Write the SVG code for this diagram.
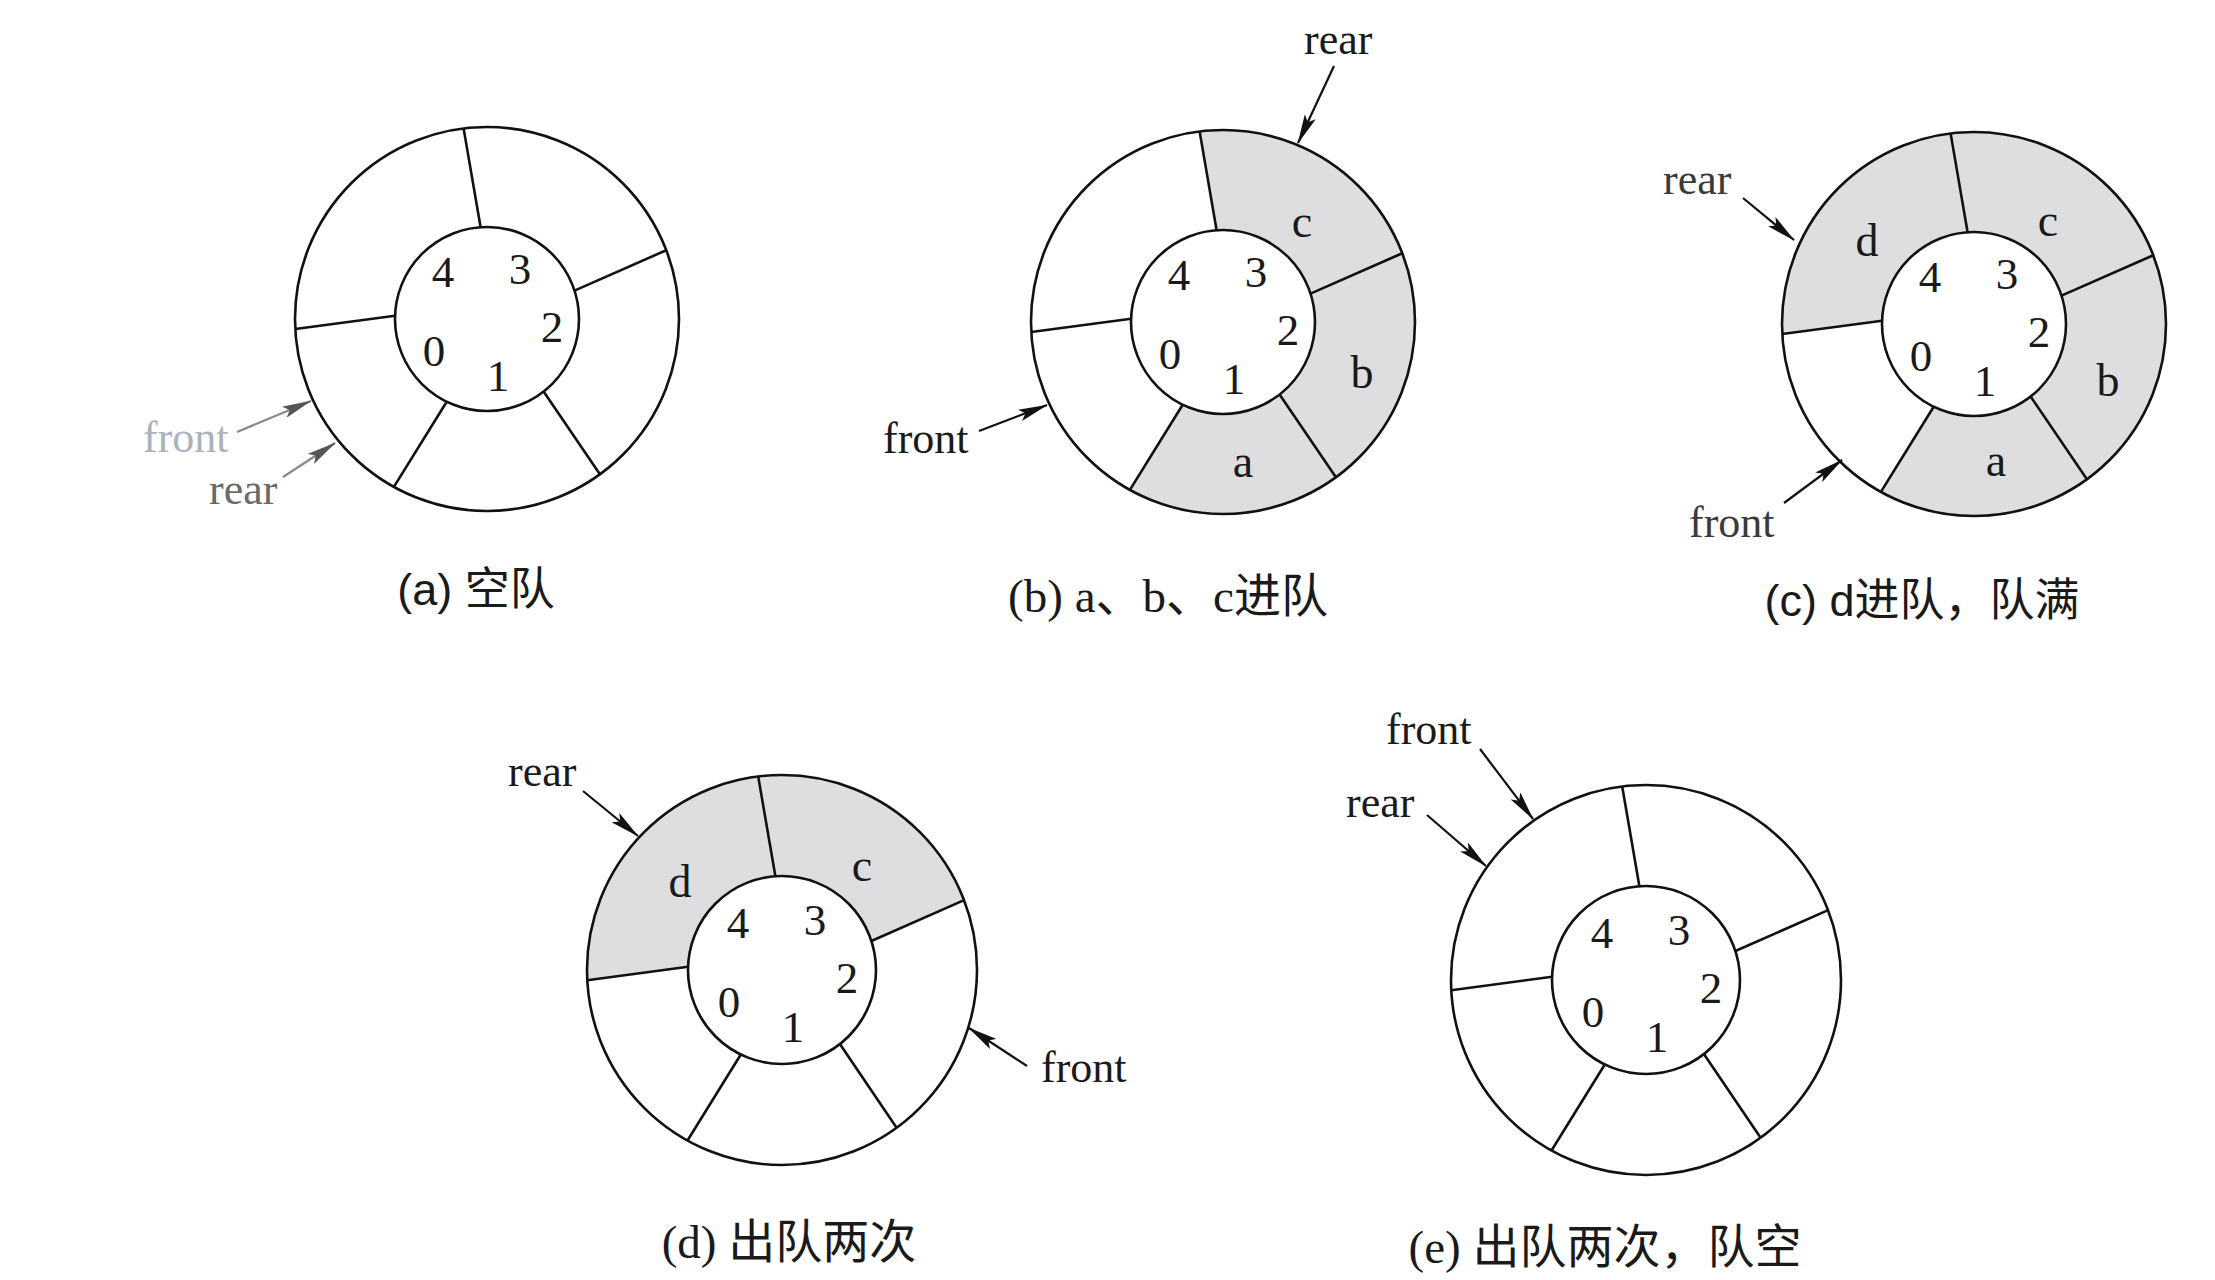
<svg xmlns="http://www.w3.org/2000/svg" xmlns:xlink="http://www.w3.org/1999/xlink" width="2215" height="1280" viewBox="0 0 2215 1280">
<style>
.ring{fill:none;stroke:#111;stroke-width:2.6}
.sh{fill:#dedee0;stroke:none}
.num{font-family:"Liberation Serif",serif;font-size:45px;fill:#1a1a1a;text-anchor:middle}
.let{font-family:"Liberation Serif",serif;font-size:46px;fill:#1a1a1a;text-anchor:middle}
.lbl{font-family:"Liberation Serif",serif;font-size:44px;fill:#1a1a1a}
.cap{font-family:"Liberation Serif","Noto Sans CJK SC",serif;font-size:47px;fill:#1a1a1a;text-anchor:middle}
.caps{font-family:"Liberation Sans","Noto Sans CJK SC",sans-serif;font-size:45px;fill:#1a1a1a;text-anchor:middle}
.arr{stroke:#111;stroke-width:2.2;fill:none;marker-end:url(#ah)}
.arrg{stroke:#888;stroke-width:2.2;fill:none;marker-end:url(#ahg)}
</style>
<defs>
<marker id="ah" viewBox="0 0 30 12" refX="29" refY="6" markerWidth="30" markerHeight="12" markerUnits="userSpaceOnUse" orient="auto">
<path d="M0,0 L30,6 L0,12 L6,6 z" fill="#111"/>
</marker>
<marker id="ahg" viewBox="0 0 30 12" refX="29" refY="6" markerWidth="30" markerHeight="12" markerUnits="userSpaceOnUse" orient="auto">
<path d="M0,0 L30,6 L0,12 L6,6 z" fill="#555"/>
</marker>
<g id="ringT">
<circle class="ring" r="192"/>
<circle class="ring" r="92"/>
<path class="ring" d="M-6.4,-91.8 L-23.4,-190.6 M87.5,-28.4 L179.3,-68.8 M56.6,72.5 L112.9,155.3 M-40.3,82.7 L-93.1,167.9 M-91.9,-3.2 L-191.7,10"/>
<text class="num" x="-44" y="-32">4</text>
<text class="num" x="33" y="-35">3</text>
<text class="num" x="65" y="23">2</text>
<text class="num" x="-53" y="47">0</text>
<text class="num" x="11" y="72">1</text>
</g>
<g id="ringB">
<circle class="ring" r="195"/>
<circle class="ring" r="94"/>
<path class="ring" d="M-6.6,-93.8 L-23.8,-193.5 M89.4,-29 L182.1,-69.9 M57.9,74.1 L114.6,157.8 M-41.2,84.5 L-94.5,170.5 M-93.9,-3.3 L-194.7,10.2"/>
<text class="num" x="-44" y="-32">4</text>
<text class="num" x="33" y="-35">3</text>
<text class="num" x="65" y="23">2</text>
<text class="num" x="-53" y="47">0</text>
<text class="num" x="11" y="72">1</text>
</g>
</defs>

<g id="fig-a" transform="translate(487,319)">
<use xlink:href="#ringT" href="#ringT"/>
</g>

<g id="fig-b" transform="translate(1223,322)">
<path class="sh" d="M-23.4,-190.6 A192,192 0 0 1 179.3,-68.8 L87.5,-28.4 A92,92 0 0 0 -6.4,-91.8 Z"/>
<path class="sh" d="M179.3,-68.8 A192,192 0 0 1 112.9,155.3 L56.6,72.5 A92,92 0 0 0 87.5,-28.4 Z"/>
<path class="sh" d="M112.9,155.3 A192,192 0 0 1 -93.1,167.9 L-40.3,82.7 A92,92 0 0 0 56.6,72.5 Z"/>
<use xlink:href="#ringT" href="#ringT"/>
<text class="let" x="79" y="-85">c</text>
<text class="let" x="139" y="66">b</text>
<text class="let" x="20" y="155">a</text>
</g>

<g id="fig-c" transform="translate(1974,324)">
<path class="sh" d="M-23.4,-190.6 A192,192 0 0 1 179.3,-68.8 L87.5,-28.4 A92,92 0 0 0 -6.4,-91.8 Z"/>
<path class="sh" d="M179.3,-68.8 A192,192 0 0 1 112.9,155.3 L56.6,72.5 A92,92 0 0 0 87.5,-28.4 Z"/>
<path class="sh" d="M112.9,155.3 A192,192 0 0 1 -93.1,167.9 L-40.3,82.7 A92,92 0 0 0 56.6,72.5 Z"/>
<path class="sh" d="M-191.7,10 A192,192 0 0 1 -23.4,-190.6 L-6.4,-91.8 A92,92 0 0 0 -91.9,-3.2 Z"/>
<use xlink:href="#ringT" href="#ringT"/>
<text class="let" x="-107" y="-68">d</text>
<text class="let" x="74" y="-88">c</text>
<text class="let" x="134" y="72">b</text>
<text class="let" x="22" y="152">a</text>
</g>

<g id="fig-d" transform="translate(782,970)">
<path class="sh" d="M-194.7,10.2 A195,195 0 0 1 -23.8,-193.5 L-6.6,-93.8 A94,94 0 0 0 -93.9,-3.3 Z"/>
<path class="sh" d="M-23.8,-193.5 A195,195 0 0 1 182.1,-69.9 L89.4,-29 A94,94 0 0 0 -6.6,-93.8 Z"/>
<use xlink:href="#ringB" href="#ringB"/>
<text class="let" x="-102" y="-73">d</text>
<text class="let" x="80" y="-89">c</text>
</g>

<g id="fig-e" transform="translate(1646,980)">
<use xlink:href="#ringB" href="#ringB"/>
</g>

<g id="connectors">
<line class="arrg" x1="237" y1="432" x2="311" y2="401"/>
<line class="arrg" x1="283" y1="477" x2="335" y2="443"/>
<line class="arr" x1="979" y1="431" x2="1047" y2="405"/>
<line class="arr" x1="1334" y1="66" x2="1298" y2="143"/>
<line class="arr" x1="1743" y1="198" x2="1794" y2="240"/>
<line class="arr" x1="1784" y1="503" x2="1842" y2="460"/>
<line class="arr" x1="583" y1="791" x2="638" y2="836"/>
<line class="arr" x1="1027" y1="1066" x2="969" y2="1028"/>
<line class="arr" x1="1480" y1="749" x2="1533" y2="819"/>
<line class="arr" x1="1427" y1="815" x2="1486" y2="866"/>
</g>

<g id="labels">
<text class="lbl" x="143" y="452" style="fill:#a9b3bd">front</text>
<text class="lbl" x="209" y="504" style="fill:#6a6a6a">rear</text>
<text class="lbl" x="883" y="453">front</text>
<text class="lbl" x="1304" y="54">rear</text>
<text class="lbl" x="1663" y="194" style="fill:#3a3a3a">rear</text>
<text class="lbl" x="1689" y="537" style="fill:#3a3a3a">front</text>
<text class="lbl" x="508" y="786">rear</text>
<text class="lbl" x="1041" y="1082">front</text>
<text class="lbl" x="1386" y="744">front</text>
<text class="lbl" x="1346" y="817">rear</text>
</g>

<g id="captions">
<text class="caps" x="476" y="605">(a) 空队</text>
<text class="cap" x="1168" y="612">(b) a、b、c进队</text>
<text class="caps" x="1922" y="616">(c) d进队，队满</text>
<text class="cap" x="789" y="1258">(d) 出队两次</text>
<text class="cap" x="1605" y="1263">(e) 出队两次，队空</text>
</g>
</svg>
